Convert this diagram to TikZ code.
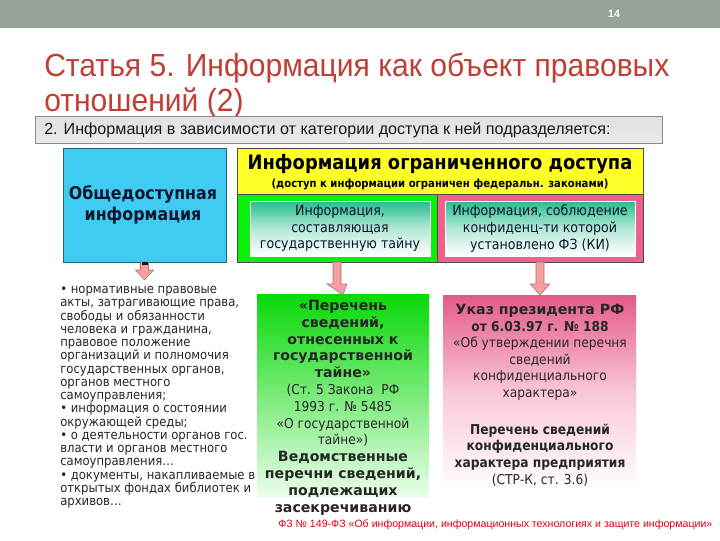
\documentclass[tikz,border=0pt]{standalone}
\usepackage{fontspec}
\setmainfont{Liberation Sans}
\newfontfamily\titlef{Liberation Sans}[FakeStretch=0.94]
\newfontfamily\tah{DejaVu Sans}[FakeStretch=0.9]
\newfontfamily\tahw{DejaVu Sans}
\usetikzlibrary{calc}
\definecolor{barc}{RGB}{150,163,153}
\definecolor{titlec}{RGB}{192,62,52}
\definecolor{bluec}{RGB}{64,204,242}
\definecolor{yellowc}{RGB}{255,255,40}
\definecolor{greenc}{RGB}{10,240,10}
\definecolor{pinkc}{RGB}{240,96,140}
\definecolor{tealc}{RGB}{36,190,140}
\definecolor{darkc}{RGB}{15,20,45}
\definecolor{arrowc}{RGB}{245,160,160}
\definecolor{footc}{RGB}{225,0,20}
\begin{document}
\begin{tikzpicture}[x=0.75pt,y=-0.75pt,
  box/.style={anchor=north west,inner sep=0pt,outer sep=0pt},
  inner/.style={box,top color=tealc,bottom color=white,middle color=tealc!35!white,draw=white,line width=0.6pt,align=center,font=\tah\fontsize{10.5}{12}\selectfont,text=darkc},
  blockarrow/.style={fill=arrowc,draw=arrowc!70!black,line width=0.4pt}]
\useasboundingbox (0,0) rectangle (720,540);
% top bar
\fill[barc] (0,0) rectangle (720,28);
\node[font=\bfseries\fontsize{8}{9}\selectfont,text=white] (pnum) at (614,14) {14};
% title
\node[anchor=base west,inner sep=0pt,text=titlec,font=\titlef\fontsize{24}{26}\selectfont] (t1) at (44,76) {Статья 5. Информация как объект правовых};
\node[anchor=base west,inner sep=0pt,text=titlec,font=\titlef\fontsize{24}{26}\selectfont] (t2) at (44,111) {отношений (2)};
% gray subtitle box
\node[box,minimum width={627*0.75pt},minimum height={27*0.75pt},top color=black!12,bottom color=black!8,draw=black!45,line width=0.5pt] (sub) at (35,116) {};
\node[anchor=west,inner sep=0pt,font=\fontsize{12.1}{13}\selectfont,text=black!90] (subt) at (44,130) {2. Информация в зависимости от категории доступа к ней подразделяется:};
% blue box
\node[box,minimum width={163*0.75pt},minimum height={114*0.75pt},fill=bluec,draw=bluec!50!black,line width=0.6pt] (blue) at (63,148) {};
\node[align=center,font=\tah\bfseries\fontsize{13.2}{16}\selectfont,text=darkc] (bluet) at (143,205) {Общедоступная\\информация};
% yellow
\node[box,minimum width={406*0.75pt},minimum height={46*0.75pt},fill=yellowc,draw=black!70,line width=0.5pt] (yellow) at (237,148) {};
\node[font=\tah\bfseries\fontsize{14.9}{18}\selectfont,text=black] (yt1) at (440,164) {Информация ограниченного доступа};
\node[font=\tah\bfseries\fontsize{8.4}{10}\selectfont,text=black] (yt2) at (440,184) {(доступ к информации ограничен федеральн. законами)};
% green and pink
\node[box,minimum width={200*0.75pt},minimum height={68*0.75pt},fill=greenc,draw=black!70,line width=0.5pt] (green) at (237,194) {};
\node[box,minimum width={206*0.75pt},minimum height={68*0.75pt},fill=pinkc,draw=black!70,line width=0.5pt] (pink) at (437,194) {};
\node[inner,minimum width={180*0.75pt},minimum height={55*0.75pt}] (ing) at (250,201) {};
\node[align=center,font=\tah\fontsize{10.5}{12.5}\selectfont,text=darkc] (ingt) at (ing.center) {Информация,\\составляющая\\государственную тайну};
\node[inner,minimum width={190*0.75pt},minimum height={55*0.75pt}] (inp) at (445,201) {};
\node[align=center,font=\tah\fontsize{10.5}{12.5}\selectfont,text=darkc] (inpt) at (inp.center) {Информация, соблюдение\\конфиденц-ти которой\\установлено ФЗ (КИ)};
% left bullet text
\node[anchor=north west,inner sep=0pt,align=left,font=\tah\fontsize{9.7}{9.95}\selectfont,text=black!85] (list) at (60,286) {%
• нормативные правовые\\
акты, затрагивающие права,\\
свободы и обязанности\\
человека и гражданина,\\
правовое положение\\
организаций и полномочия\\
государственных органов,\\
органов местного\\
самоуправления;\\
• информация о состоянии\\
окружающей среды;\\
• о деятельности органов гос.\\
власти и органов местного\\
самоуправления…\\
• документы, накапливаемые в\\
открытых фондах библиотек и\\
архивов…};
% bottom green box
\node[box,minimum width={172*0.75pt},minimum height={203*0.75pt},top color=greenc!90!black,bottom color=greenc!8!white] (bg) at (257,294) {};
\node[anchor=north,inner sep=0pt,align=center,font=\tah\fontsize{10.2}{12.6}\selectfont,text=black!85] (bgt) at (343,300) {%
{\tahw\bfseries\fontsize{10.6}{12.6}\selectfont «Перечень}\\{\tahw\bfseries\fontsize{10.6}{12.6}\selectfont сведений,}\\{\tahw\bfseries\fontsize{10.6}{12.6}\selectfont отнесенных к}\\{\tahw\bfseries\fontsize{10.6}{12.6}\selectfont государственной}\\{\tahw\bfseries\fontsize{10.6}{12.6}\selectfont тайне»}\\
(Ст. 5 Закона~~РФ\\1993 г. № 5485\\«О государственной\\тайне»)\\
{\tahw\bfseries\fontsize{10.6}{12.6}\selectfont Ведомственные}\\{\tahw\bfseries\fontsize{10.6}{12.6}\selectfont перечни сведений,}\\{\tahw\bfseries\fontsize{10.6}{12.6}\selectfont подлежащих}\\{\tahw\bfseries\fontsize{10.6}{12.6}\selectfont засекречиванию}};
% bottom pink box
\node[box,minimum width={193*0.75pt},minimum height={195*0.75pt},top color=pinkc!95!black,bottom color=white,middle color=pinkc!35!white] (bp) at (443,295) {};
\node[anchor=north,inner sep=0pt,align=center,font=\tah\fontsize{10.2}{12.4}\selectfont,text=black!85] (bpt) at (540,304) {%
{\tahw\bfseries\fontsize{10.6}{12.4}\selectfont Указ президента РФ}\\{\bfseries от 6.03.97 г. № 188}\\
«Об утверждении перечня\\сведений\\конфиденциального\\характера»\\[15.5pt]
{\bfseries Перечень сведений}\\{\bfseries конфиденциального}\\{\bfseries характера предприятия}\\(СТР-К, ст. 3.6)};
% footer
\node[anchor=west,inner sep=0pt,text=footc] (foot) at (278,525) {\resizebox{325.5pt}{!}{\fontsize{9}{10}\selectfont ФЗ № 149-ФЗ «Об информации, информационных технологиях и защите информации»}};
% block arrows
\draw[blockarrow] ($(blue.south)+(-4,0)$) -- ($(blue.south)+(4,0)$) -- ($(blue.south)+(4,8)$) -- ($(blue.south)+(9,8)$) -- ($(blue.south)+(0,18)$) -- ($(blue.south)+(-9,8)$) -- ($(blue.south)+(-4,8)$) -- cycle;
\fill[darkc] ($(blue.south)+(-3,0)$) rectangle ($(blue.south)+(3,3)$);
\draw[blockarrow] ($(green.south)+(-4,0)$) -- ($(green.south)+(4,0)$) -- ($(green.south)+(4,22)$) -- ($(green.south)+(10,22)$) -- ($(bg.north)+(0,1)$) -- ($(green.south)+(-10,22)$) -- ($(green.south)+(-4,22)$) -- cycle;
\draw[blockarrow] ($(pink.south)+(-4,0)$) -- ($(pink.south)+(4,0)$) -- ($(pink.south)+(4,22)$) -- ($(pink.south)+(10,22)$) -- ($(pink.south)+(0,33)$) -- ($(pink.south)+(-10,22)$) -- ($(pink.south)+(-4,22)$) -- cycle;
\end{tikzpicture}
\end{document}
